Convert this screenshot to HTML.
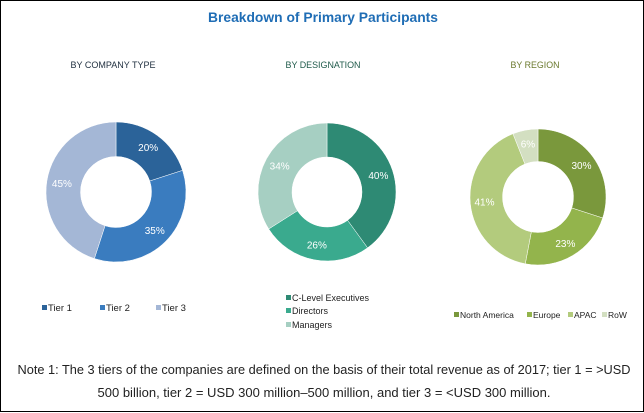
<!DOCTYPE html>
<html><head><meta charset="utf-8">
<style>
body{margin:0;background:#fff;}
#wrap{position:relative;width:642px;height:410px;border:1px solid #000;background:#fff;font-family:"Liberation Sans",sans-serif;}
svg{position:absolute;left:0;top:0;}
</style></head><body>
<div id="wrap">
<svg id="s" width="644" height="412">
<text x="322" y="21" text-anchor="middle" font-size="14" font-weight="bold" fill="#1f6db5" textLength="230" lengthAdjust="spacingAndGlyphs">Breakdown of Primary Participants</text>
<text x="112" y="67" text-anchor="middle" font-size="9.5" fill="#1f2f3f" textLength="85" lengthAdjust="spacingAndGlyphs">BY COMPANY TYPE</text>
<text x="322" y="67" text-anchor="middle" font-size="9.5" fill="#1f5a4a" textLength="75" lengthAdjust="spacingAndGlyphs">BY DESIGNATION</text>
<text x="534" y="67" text-anchor="middle" font-size="9.5" fill="#6b7a2e" textLength="49" lengthAdjust="spacingAndGlyphs">BY REGION</text>
<text x="323" y="373" text-anchor="middle" font-size="12.5" fill="#222" textLength="613" lengthAdjust="spacingAndGlyphs">Note 1: The 3 tiers of the companies are defined on the basis of their total revenue as of 2017; tier 1 = &gt;USD</text>
<text x="323" y="396" text-anchor="middle" font-size="12.5" fill="#222" textLength="453" lengthAdjust="spacingAndGlyphs">500 billion, tier 2 = USD 300 million–500 million, and tier 3 = &lt;USD 300 million.</text>
</svg>
</div>
<script>
const companyLabels=["Tier 1","Tier 2","Tier 3"];
const companyValues=[20,35,45];
const designationLabels=["C-Level Executives","Directors","Managers"];
const designationValues=[40,26,34];
const regionLabels=["North America","Europe","APAC","RoW"];
const regionValues=[30,23,41,6];

const NS="http://www.w3.org/2000/svg";
const svg=document.getElementById('s');
function mk(t,a){const e=document.createElementNS(NS,t);for(const k in a)e.setAttribute(k,a[k]);svg.appendChild(e);return e;}
function donut(cx,cy,r,ri,vals,cols,key){
  const tot=vals.reduce((a,b)=>a+b,0);let a0=-Math.PI/2;
  vals.forEach((v,i)=>{
    const a1=a0+v/tot*2*Math.PI;const lg=(a1-a0)>Math.PI?1:0;
    const p=(rr,a)=>[cx+rr*Math.cos(a),cy+rr*Math.sin(a)];
    const [x0,y0]=p(r,a0),[x1,y1]=p(r,a1),[x2,y2]=p(ri,a1),[x3,y3]=p(ri,a0);
    const e=mk('path',{d:`M${x0},${y0}A${r},${r} 0 ${lg} 1 ${x1},${y1}L${x2},${y2}A${ri},${ri} 0 ${lg} 0 ${x3},${y3}Z`,fill:cols[i],stroke:'#fff','stroke-width':0.5});
    
    
    const am=(a0+a1)/2,rm=(r+ri)/2+2;
    const t=mk('text',{x:cx+rm*Math.cos(am),y:cy+rm*Math.sin(am)+3.5,'text-anchor':'middle','font-size':10,fill:'#fff'});
    t.textContent=v+'%';
    
    
    a0=a1;
  });
}
donut(115,191,70,35.5,companyValues,['#2b6399','#3a7cbf','#a4b7d6'],'company');
donut(326,191,69,35,designationValues,['#2e8a74','#3aaa8e','#a6cfc2'],'designation');
donut(537,196,68,35.5,regionValues,['#7a983c','#93b44c','#b3cb7d','#d3dfc1'],'region');

function legend(items,cols,pos,key,fs){
  items.forEach((s,i)=>{
    const [x,y]=pos[i];
    const r=mk('rect',{x:x,y:y-6,width:5,height:5,fill:cols[i]});
    
    
    const t=mk('text',{x:x+6,y:y,'font-size':fs,fill:'#222'});
    t.textContent=s;
    
    
  });
}
legend(companyLabels,['#2b6399','#3a7cbf','#a4b7d6'],[[41,310],[99,310],[155,310]],'company',9.5);
legend(designationLabels,['#2e8a74','#3aaa8e','#a6cfc2'],[[285,300],[285,313],[285,327]],'designation',9);
legend(regionLabels,['#7a983c','#93b44c','#b3cb7d','#d3dfc1'],[[453,317],[526,317],[567,317],[601,317]],'region',8.5);
</script>
</body></html>
